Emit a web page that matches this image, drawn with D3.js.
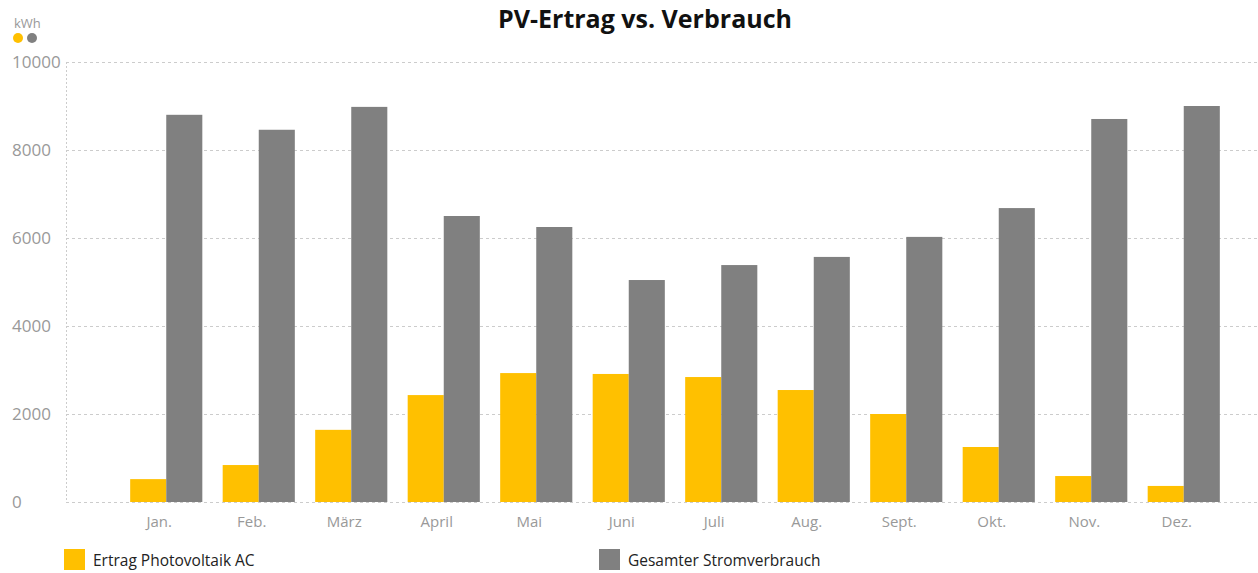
<!DOCTYPE html>
<html>
<head>
<meta charset="utf-8">
<script src="https://cdn.jsdelivr.net/npm/d3@7"></script>
<style>
  body { margin: 0; background: #fff; }
  svg { display: block; font-family: "Open Sans", "Noto Sans", sans-serif; }
</style>
</head>
<body>
<svg></svg>
<script>
const width = 1258;
const height = 573;

const months = ['Jan.', 'Feb.', 'März', 'April', 'Mai', 'Juni', 'Juli', 'Aug.', 'Sept.', 'Okt.', 'Nov.', 'Dez.'];
const pvYield = [520, 840, 1640, 2430, 2930, 2910, 2840, 2545, 2000, 1250, 590, 365];
const consumption = [8800, 8460, 8980, 6500, 6250, 5045, 5385, 5570, 6025, 6680, 8705, 9000];
const yTicks = [0, 2000, 4000, 6000, 8000, 10000];
const seriesNames = ['Ertrag Photovoltaik AC', 'Gesamter Stromverbrauch'];
const colors = ['#ffc000', '#808080'];

const svg = d3.select('svg')
  .attr('width', width)
  .attr('height', height);

const x = d3.scaleBand()
  .domain(months)
  .range([120, 1230])
  .paddingInner(0.22)
  .paddingOuter(0.11);

const xSub = d3.scaleBand()
  .domain([0, 1])
  .range([0, x.bandwidth()]);

const y = d3.scaleLinear()
  .domain([0, 10000])
  .range([502, 62]);

// ====================================
// Grid + axes
// ====================================
svg.append('g')
  .selectAll('line')
  .data(yTicks)
  .enter()
  .append('line')
  .attr('x1', 66)
  .attr('x2', width)
  .attr('y1', d => y(d) + 0.5)
  .attr('y2', d => y(d) + 0.5)
  .attr('stroke', '#cccccc')
  .attr('stroke-dasharray', '3,3');

svg.append('line')
  .attr('x1', 66.5)
  .attr('x2', 66.5)
  .attr('y1', y(10000))
  .attr('y2', y(0))
  .attr('stroke', '#cccccc')
  .attr('stroke-dasharray', '2,2');

svg.append('g')
  .selectAll('text')
  .data(yTicks)
  .enter()
  .append('text')
  .attr('x', 12)
  .attr('y', d => y(d))
  .attr('dy', '0.35em')
  .attr('fill', '#999999')
  .attr('font-size', 17)
  .text(d => d);

const xAxis = d3.axisBottom(x).tickSize(0).tickPadding(14);
svg.append('g')
  .attr('transform', `translate(0, ${y(0)})`)
  .call(xAxis)
  .call(g => g.select('.domain').remove())
  .selectAll('text')
  .attr('dx', -7)
  .attr('fill', '#999999')
  .attr('font-size', 15)
  .attr('font-family', '"Open Sans", "Noto Sans", sans-serif');

// ====================================
// Bars
// ====================================
const groups = svg.append('g')
  .selectAll('g')
  .data(months)
  .enter()
  .append('g')
  .attr('transform', d => `translate(${x(d)}, 0)`);

groups.selectAll('rect')
  .data((d, i) => [pvYield[i], consumption[i]])
  .enter()
  .append('rect')
  .attr('x', (d, j) => xSub(j))
  .attr('width', xSub.bandwidth())
  .attr('y', d => y(d))
  .attr('height', d => y(0) - y(d))
  .attr('fill', (d, j) => colors[j]);

// ====================================
// Title, unit, legend
// ====================================
svg.append('text')
  .text('PV-Ertrag vs. Verbrauch')
  .attr('x', 645)
  .attr('y', 28)
  .attr('text-anchor', 'middle')
  .attr('font-size', 25)
  .attr('font-weight', 'bold')
  .attr('fill', '#111');

svg.append('text')
  .text('kWh')
  .attr('x', 14)
  .attr('y', 28)
  .attr('font-size', 13)
  .attr('fill', '#999999');

svg.selectAll('circle.dot')
  .data(colors)
  .enter()
  .append('circle')
  .attr('class', 'dot')
  .attr('cx', (d, i) => 18 + i * 14)
  .attr('cy', 38)
  .attr('r', 5)
  .attr('fill', d => d);

const legend = svg.append('g')
  .selectAll('g')
  .data(seriesNames)
  .enter()
  .append('g')
  .attr('transform', (d, i) => `translate(${[64, 599][i]}, 549)`);

legend.append('rect')
  .attr('width', 21)
  .attr('height', 21)
  .attr('fill', (d, i) => colors[i]);

legend.append('text')
  .attr('x', 29)
  .attr('y', 17)
  .attr('font-size', 15.5)
  .attr('fill', '#222')
  .text(d => d);
</script>
</body>
</html>
